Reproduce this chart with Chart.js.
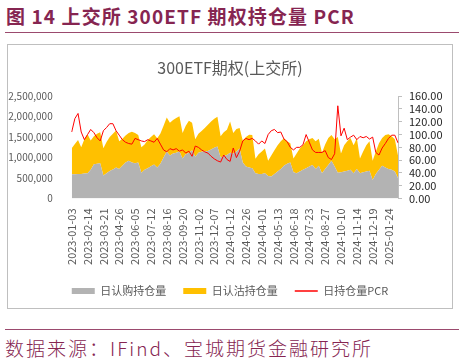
<!DOCTYPE html>
<html>
<head>
<meta charset="utf-8">
<script src="https://cdn.jsdelivr.net/npm/chart.js@4.4.1/dist/chart.umd.min.js"></script>
<style>
  body { margin: 0; width: 464px; height: 363px; background: #fff; position: relative; overflow: hidden; font-family: "Noto Sans CJK SC", sans-serif; }
  .title { position: absolute; left: 6px; top: 5px; line-height: 22px; font-size: 19px; font-weight: bold; color: #862551; white-space: pre; letter-spacing: 1.1px; }
  .rule { position: absolute; left: 5px; width: 454px; height: 1px; background: #9b4a6e; }
  .box { position: absolute; left: 7px; top: 44px; width: 444px; height: 263px; border: 1px solid #bfbfbf; }
  .source { position: absolute; left: 5px; top: 337px; line-height: 22px; font-size: 19px; font-weight: 300; color: #862551; white-space: pre; letter-spacing: 2px; }
</style>
</head>
<body>
<div class="title">图 14 上交所 300ETF 期权持仓量 PCR</div>
<div class="rule" style="top:32px"></div>
<div class="box"><canvas id="chart" width="444" height="263"></canvas></div>
<div class="rule" style="top:329px"></div>
<div class="source">数据来源：IFind、宝城期货金融研究所</div>

<script>
// tick labels on the x axis, one every 5 samples
const tickDates = [
  "2023-01-03", "2023-02-14", "2023-03-21", "2023-04-26", "2023-06-05",
  "2023-07-12", "2023-08-16", "2023-09-20", "2023-11-02", "2023-12-07",
  "2024-01-12", "2024-02-26", "2024-04-01", "2024-05-13", "2024-06-18",
  "2024-07-23", "2024-08-27", "2024-10-10", "2024-11-14", "2024-12-19",
  "2025-01-24",
];

// 日认购持仓量 (sampled about every 5 trading days)
const callOI = [
  590000, 590000, 600000, 600000, 610000, 620000, 700000, 840000, 850000, 860000,
  560000, 620000, 670000, 710000, 760000, 720000, 800000, 880000, 920000, 880000,
  860000, 880000, 630000, 700000, 740000, 790000, 830000, 760000, 850000, 1000000,
  1140000, 1050000, 1100000, 1120000, 1150000, 980000, 1080000, 1120000, 1180000, 1020000,
  1120000, 1140000, 1150000, 1160000, 1200000, 1240000, 1270000, 1000000, 1040000, 1060000,
  1120000, 1100000, 1150000, 1220000, 880000, 780000, 760000, 740000, 620000, 600000,
  600000, 620000, 550000, 540000, 600000, 660000, 720000, 800000, 850000, 880000,
  640000, 620000, 660000, 700000, 740000, 780000, 820000, 720000, 800000, 620000,
  720000, 820000, 920000, 780000, 630000, 640000, 660000, 680000, 700000, 620000,
  720000, 620000, 640000, 660000, 680000, 450000, 600000, 700000, 800000, 760000,
  720000, 700000, 660000, 500000,
];

// 日认沽持仓量
const putOI = [
  640000, 740000, 830000, 650000, 840000, 950000, 720000, 680000, 730000, 760000,
  670000, 760000, 830000, 870000, 900000, 680000, 660000, 660000, 680000, 750000,
  740000, 670000, 620000, 620000, 690000, 710000, 740000, 710000, 740000, 780000,
  840000, 800000, 820000, 850000, 860000, 620000, 700000, 780000, 670000, 430000,
  460000, 510000, 570000, 640000, 680000, 710000, 730000, 520000, 580000, 620000,
  760000, 500000, 550000, 500000, 540000, 720000, 800000, 810000, 350000, 480000,
  550000, 600000, 370000, 510000, 580000, 640000, 680000, 670000, 550000, 470000,
  340000, 480000, 560000, 600000, 660000, 670000, 660000, 680000, 660000, 500000,
  600000, 660000, 630000, 670000, 870000, 460000, 640000, 720000, 780000, 680000,
  760000, 360000, 510000, 640000, 720000, 470000, 550000, 650000, 680000, 790000,
  850000, 820000, 790000, 550000,
];

// 日持仓量PCR
const pcr = [
  104, 125, 133, 104, 92, 100, 108, 103, 95, 90,
  106, 111, 117, 117, 106, 99, 92, 88, 86, 85,
  94, 92, 90, 89, 92, 90, 88, 94, 85, 76,
  73, 78, 76, 78, 74, 76, 71, 74, 66, 82,
  80, 76, 73, 71, 66, 62, 59, 57, 68, 61,
  58, 79, 64, 74, 90, 94, 92, 94, 90, 85,
  90, 86, 100, 106, 108, 103, 104, 93, 89, 80,
  76, 80, 80, 84, 100, 88, 76, 72, 72, 72,
  75, 64, 61, 70, 145, 98, 110, 92, 96, 99,
  92, 97, 95, 97, 93, 96, 72, 68, 79, 86,
  94, 99, 99, 87,
];

const labels = callOI.map((_, i) => (i % 5 === 0 && tickDates[i / 5]) || "");

const FONT = '"Noto Sans CJK SC", "Liberation Sans", sans-serif';
Chart.defaults.font.family = FONT;

const config = {
  type: "line",
  data: {
    labels: labels,
    datasets: [
      {
        label: "日认购持仓量",
        data: callOI,
        yAxisID: "y",
        backgroundColor: "#b3b3b3",
        borderWidth: 0,
        pointRadius: 0,
        fill: "origin",
        order: 1,
      },
      {
        label: "日认沽持仓量",
        data: putOI,
        yAxisID: "y",
        backgroundColor: "#ffc000",
        borderWidth: 0,
        pointRadius: 0,
        fill: "-1",
        order: 1,
      },
      {
        label: "日持仓量PCR",
        data: pcr,
        yAxisID: "y1",
        borderColor: "#ff0000",
        backgroundColor: "#ff0000",
        borderWidth: 1,
        pointRadius: 0,
        fill: false,
        order: 0,
      },
    ],
  },
  options: {
    responsive: false,
    animation: false,
    layout: { padding: { left: 0, right: 0, top: 0, bottom: 1.5 } },
    plugins: {
      title: {
        display: true,
        text: "300ETF期权(上交所)",
        color: "#595959",
        font: { size: 16, weight: "normal" },
        padding: { top: 13, bottom: 19 },
      },
      legend: {
        position: "bottom",
        labels: {
          usePointStyle: true,
          pointStyleWidth: 23,
          boxHeight: 6,
          padding: 17,
          color: "#595959",
          font: { size: 11 },
          generateLabels: (chart) =>
            chart.data.datasets.map((ds, i) => ({
              text: ds.label,
              fillStyle: ds.backgroundColor,
              strokeStyle: i === 2 ? ds.borderColor : ds.backgroundColor,
              lineWidth: i === 2 ? 1.5 : 0,
              pointStyle: i === 2 ? "line" : "rect",
              fontColor: "#595959",
              hidden: false,
              datasetIndex: i,
            })),
        },
      },
      tooltip: { enabled: false },
    },
    scales: {
      x: {
        grid: { display: false, drawTicks: false },
        border: { display: false },
        ticks: {
          autoSkip: false,
          maxRotation: 90,
          minRotation: 90,
          padding: 10,
          color: "#595959",
          font: { size: 11 },
        },
        afterFit: (scale) => {
          scale.height = 70;
        },
      },
      y: {
        stacked: true,
        min: 0,
        max: 2500000,
        grid: { display: false },
        border: { display: false },
        ticks: {
          stepSize: 500000,
          autoSkip: false,
          padding: 11,
          color: "#595959",
          font: { size: 10 },
          callback: (v) => v.toLocaleString("en-US"),
        },
        afterFit: (scale) => {
          scale.width = 63.7;
        },
      },
      y1: {
        position: "right",
        min: 0,
        max: 160,
        grid: { display: true, drawOnChartArea: false, tickLength: 4, color: "#bfbfbf" },
        border: { display: true, color: "#bfbfbf" },
        ticks: {
          stepSize: 20,
          autoSkip: false,
          padding: 7,
          color: "#262626",
          font: { size: 11 },
          callback: (v) => v.toFixed(2),
        },
        afterFit: (scale) => {
          scale.width = 54;
        },
      },
    },
  },
};

new Chart(document.getElementById("chart"), config);
</script>
</body>
</html>
